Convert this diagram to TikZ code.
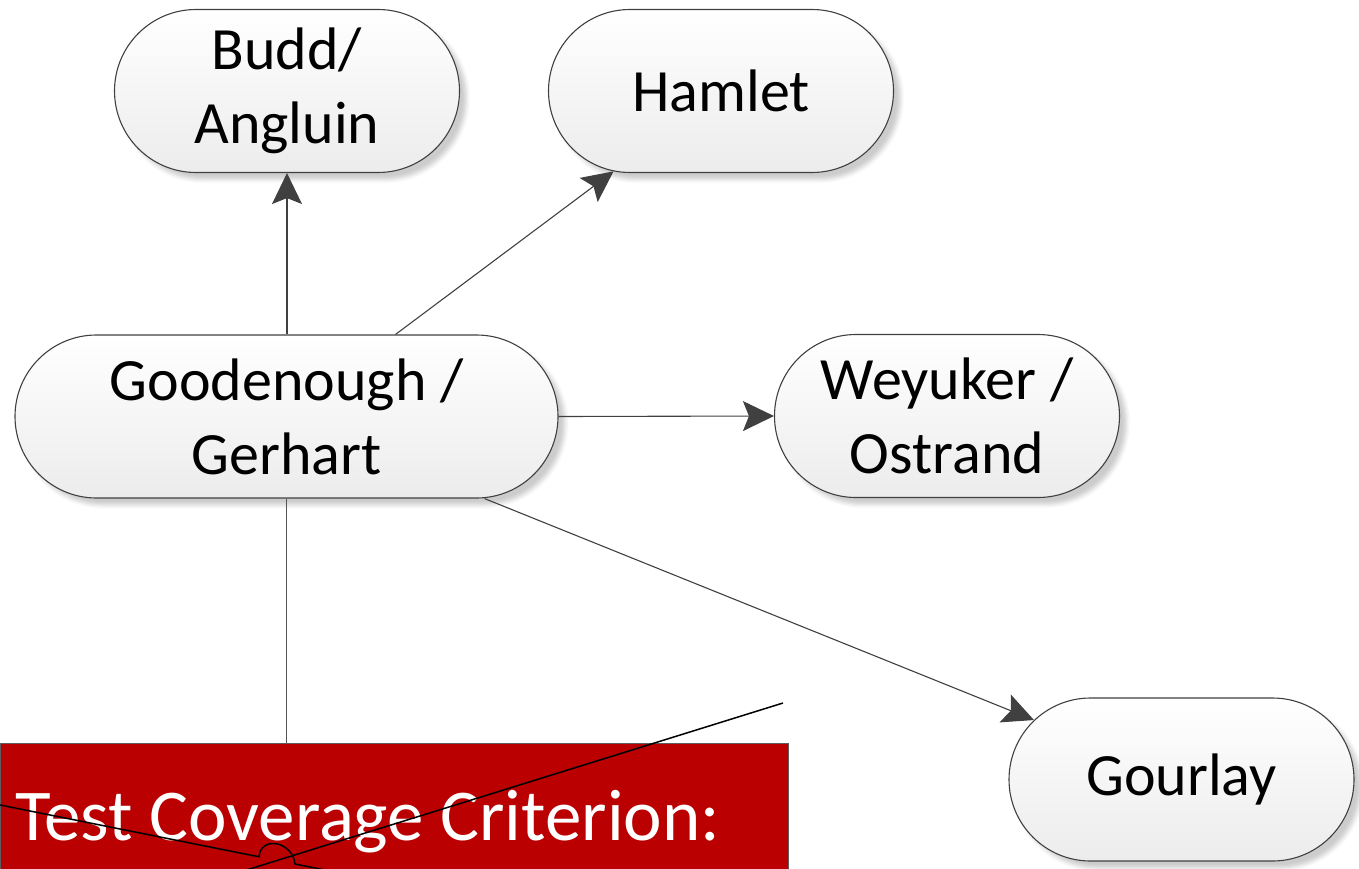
\documentclass[tikz,border=0pt]{standalone}
\usepackage{fontspec}
\setmainfont{Carlito}
\usetikzlibrary{shapes.misc,arrows.meta,shadows.blur,calc}
\definecolor{edgegray}{HTML}{404040}
\definecolor{critred}{RGB}{186,0,0}
\definecolor{boxgray}{HTML}{ECECEC}

\begin{document}
\begin{tikzpicture}[x=1bp,y=-1bp,
  author/.style={rounded rectangle, draw=edgegray, line width=1.1bp,
    top color=white, bottom color=boxgray,
    minimum width=345bp, minimum height=163bp, inner sep=0pt, align=center,
    font=\fontsize{60bp}{74bp}\selectfont,
    blur shadow={shadow xshift=7bp, shadow yshift=-7bp,
      shadow blur radius=4bp, shadow opacity=20}},
  link/.style={draw=edgegray, line width=1.1bp,
    -{Stealth[length=31bp,width=30bp,inset=6bp]}},
  plain/.style={draw=edgegray!90, line width=1.1bp},
  wire/.style={draw=black, line width=1.5bp}]

\useasboundingbox (0,0) rectangle (1359,868);
\clip (0,0) rectangle (1359,868);

% researchers
\node[author] (ba) at (287,91) {Budd/\\Angluin};
\node[author] (ham) at (721,91) {Hamlet};
\node[author, minimum width=543bp] (gg) at (286.5,416.5) {Goodenough /\\Gerhart};
\node[author] (wo) at (947,416) {Weyuker /\\Ostrand};
\node[author] (gl) at (1181.5,779.5) {Gourlay};

% influence arrows
\draw[link] (ba.south |- gg.north) -- (ba.south);
\draw[link] ([xshift=109bp]gg.north) -- (ham);
\draw[link] (gg.east) -- (wo.west);
\draw[link] ([xshift=198bp]gg.south) -- (gl);

% criterion banner
\node[rectangle, draw=edgegray!85, line width=1.1bp, fill=critred,
  anchor=north west, minimum width=788bp, minimum height=200bp,
  inner sep=0pt] (crit) at (0,743) {};
\draw[plain] (gg.south) -- (gg.south |- crit.north);
\node[anchor=base west, inner sep=0pt, text=white,
  font=\fontsize{73bp}{88bp}\selectfont] (critlabel) at (15,840)
  {Test Coverage Criterion:};

% crossing wires with a line jump
\coordinate (l1a) at (0,805);
\coordinate (l1b) at (259,856.8);
\coordinate (l1c) at (295,864);
\coordinate (l1d) at (420,889);
\coordinate (l2a) at (783,703);
\coordinate (l2b) at (150,900);
\draw[wire] (l2a) -- (l2b);
\draw[wire] (l1a) -- (l1b)
  .. controls ($(l1b)+(2,-22)$) and ($(l1c)+(-2,-22)$) .. (l1c) -- (l1d);
\end{tikzpicture}
\end{document}
